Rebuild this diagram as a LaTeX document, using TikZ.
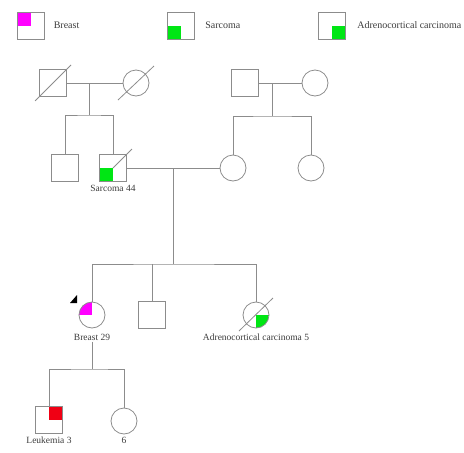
\documentclass[tikz,border=0pt]{standalone}
\usepackage{fontspec}
\setmainfont{Liberation Serif}
\usetikzlibrary{positioning}
\definecolor{affpink}{RGB}{255,0,255}
\definecolor{affgreen}{RGB}{0,230,20}
\definecolor{affred}{RGB}{240,0,20}
\definecolor{pedline}{RGB}{140,140,140}
\definecolor{pedtext}{RGB}{60,60,60}

\begin{document}
\begin{tikzpicture}[x=1pt, y=1pt, line width=0.8pt, color=pedline,
    male/.style={rectangle, draw, minimum size=27pt, inner sep=0pt},
    female/.style={circle, draw, minimum size=26pt, inner sep=0pt},
    aff/.style 2 args={path picture={\fill[#1] (path picture bounding box.center) rectangle (path picture bounding box.#2);}},
    lab/.style={text=pedtext, inner sep=1pt, font=\fontsize{9.5}{11}\selectfont},
    legtext/.style={text=pedtext, inner sep=0pt, font=\fontsize{10}{12}\selectfont}]
  \useasboundingbox (0,0) rectangle (464,-453);
  % legend
  \node[male, aff={affpink}{north west}] (legB) at (30.5,-25.5) {};
  \node[legtext, right=9pt of legB] (legBt) {Breast};
  \node[male, aff={affgreen}{south west}] (legS) at (181,-25.5) {};
  \node[legtext, right=10pt of legS] (legSt) {Sarcoma};
  \node[male, aff={affgreen}{south east}] (legA) at (332,-25.5) {};
  \node[legtext, right=11pt of legA] (legAt) {Adrenocortical carcinoma};

  % generation I
  \node[male] (gf1) at (53,-83) {};
  \node[female] (gm1) at (136,-83) {};
  \node[male] (gf2) at (245,-83) {};
  \node[female] (gm2) at (315,-83) {};
  \draw (gf1.south west) ++(-4,-4) -- ++(36,36);
  \draw (gm1.center) ++(-18,-17) -- ++(36,34);
  \draw (gf1) -- node[coordinate, pos=0.4] (m1) {} (gm1);
  \draw (gf2) -- node[coordinate, pos=0.32] (m2) {} (gm2);
  \draw (m1) -- ++(0,-32) node[coordinate] (sib1) {};
  \draw (m2) -- ++(0,-33) node[coordinate] (sib2) {};

  % generation II
  \node[male] (u1) at (65,-168) {};
  \node[male, aff={affgreen}{south west}] (s44) at (113,-168) {};
  \node[lab, below=2pt of s44] (s44l) {Sarcoma 44};
  \node[female] (w1) at (233,-168) {};
  \node[female] (a2) at (311,-168) {};
  \draw (s44.center) -- ++(19,19);
  \draw (u1.north) |- (sib1) -| (s44.north);
  \draw (w1.north) |- (sib2) -| (a2.north);
  \draw (s44) -- node[coordinate] (m3) {} (w1);
  \draw (m3) -- ++(0,-96) node[coordinate] (sib3) {};

  % generation III
  \node[female, aff={affpink}{north west}] (b29) at (92,-315) {};
  \node[lab, below=4pt of b29] (b29l) {Breast 29};
  \node[male] (s3) at (152,-315) {};
  \node[female, aff={affgreen}{south east}] (ac5) at (256,-315) {};
  \node[lab, below=4pt of ac5] (ac5l) {Adrenocortical carcinoma 5};
  \draw (ac5.center) ++(-17,-16) -- ++(34,33);
  \fill[black] (b29.center) ++(-22,12) -- ++(7,0) -- ++(0,8) -- cycle;
  \draw (b29.north) |- (sib3) -| (ac5.north);
  \draw (s3.north) -- (s3.north |- sib3);
  \draw (b29l) -- ++(0,-32) node[coordinate] (sib4) {};

  % generation IV
  \node[male, aff={affred}{north east}] (le3) at (49,-420) {};
  \node[lab, below=2pt of le3] (le3l) {Leukemia 3};
  \node[female] (c6) at (124,-421) {};
  \node[lab, below=1.5pt of c6] (c6l) {6};
  \draw (le3.north) |- (sib4) -| (c6.north);
\end{tikzpicture}
\end{document}
